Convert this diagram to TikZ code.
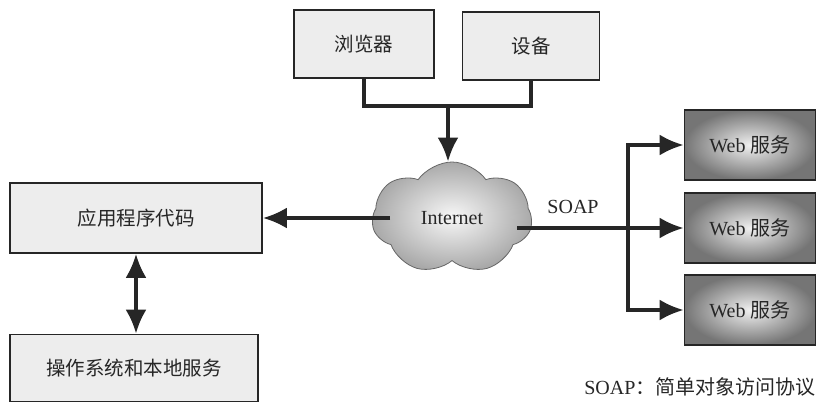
\documentclass[tikz,border=0pt]{standalone}
\usepackage{fontspec}
\setmainfont{Liberation Serif}
\newfontfamily\cjk{Noto Sans CJK SC}
\usepackage{tikz}
\usetikzlibrary{shapes}
\usetikzlibrary{shapes.symbols}
\usetikzlibrary{arrows.meta}
\tikzset{
	box/.style={draw=black!85, line width=1.6pt, fill=black!7, rectangle, font=\fontsize{19.5}{22}\selectfont\cjk, text=black!85},
	webbox/.style={draw=black!85, line width=1.6pt, rectangle, inner color=black!6, outer color=black!54, minimum width=131pt, minimum height=70pt, font=\fontsize{20}{22}\selectfont, text=black!85},
	line/.style={line width=3.6pt, black!85},
	arrow/.style={line, -{Latex[length=24pt,width=21pt]}},
	both/.style={line, {Latex[length=24pt,width=21pt]}-{Latex[length=24pt,width=21pt]}},
	lbl/.style={font=\fontsize{20}{22}\selectfont, text=black!85}
}

\begin{document}
\begin{tikzpicture}[x=1pt, y=-1pt]
					\useasboundingbox (0,0) rectangle (821,406);
					\node[box, minimum width=140pt, minimum height=68pt] (browser) at (364,44) {浏览器};
					\node[box, minimum width=137pt, minimum height=68pt] (device) at (531,46) {设备};
					\node[cloud, cloud puffs=7, cloud puff arc=110, aspect=1.45, draw=black!60, line width=0.8pt, inner color=black!3, outer color=black!34, minimum width=160pt, minimum height=112pt, lbl] (net) at (452,218) {Internet};
					\node[box, minimum width=252pt, minimum height=70pt] (app) at (136,218) {应用程序代码};
					\node[box, minimum width=248pt, minimum height=67pt] (os) at (134,368) {操作系统和本地服务};
					\node[webbox] (web1) at (750,145) {Web {\cjk 服务}};
					\node[webbox] (web2) at (750,228) {Web {\cjk 服务}};
					\node[webbox] (web3) at (750,310) {Web {\cjk 服务}};
					\node[lbl] (soap) at (573,207) {SOAP};
					\node[lbl, anchor=east] (note) at (819,387) {SOAP{\cjk ：简单对象访问协议}};
					\coordinate (join) at (448,106);
					\coordinate (netw) at (390,218);
					\coordinate (nete) at (517,228);
					\coordinate (bus) at (628,228);
					\draw[line] (browser.south) |- (join) -| (device.south);
					\draw[arrow] (join) -- (join |- net.north);
					\draw[arrow] (netw) -- (app.east);
					\draw[both] (app.south) -- (app.south |- os.north);
					\draw[arrow] (nete) -- (web2.west);
					\draw[arrow] (bus) |- (web1.west);
					\draw[arrow] (bus) |- (web3.west);
				\end{tikzpicture}
\end{document}
